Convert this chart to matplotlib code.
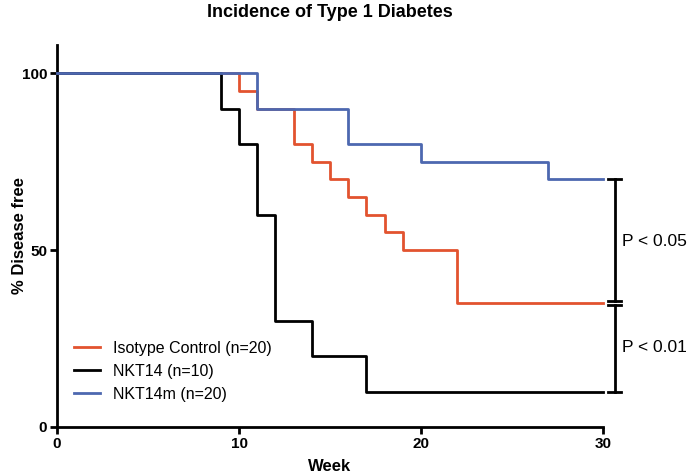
import numpy as np
import matplotlib.pyplot as plt

plt.rcParams['font.family'] = ['Liberation Sans', 'DejaVu Sans']

# survival curves (week, % disease free), step after each event
iso_weeks = [0, 10, 11, 13, 14, 15, 16, 17, 18, 19, 22, 30]
iso_free = [100, 95, 90, 80, 75, 70, 65, 60, 55, 50, 35, 35]

nkt14_weeks = [0, 9, 10, 11, 12, 14, 17, 30]
nkt14_free = [100, 90, 80, 60, 30, 20, 10, 10]

nkt14m_weeks = [0, 11, 16, 20, 27, 30]
nkt14m_free = [100, 90, 80, 75, 70, 70]

labels = ['Isotype Control (n=20)', 'NKT14 (n=10)', 'NKT14m (n=20)']
colors = ['#E2532F', '#000000', '#4D68B0']

# p-value brackets: (top, bottom, text)
brackets = [(70, 35, 'P < 0.05'), (35, 10, 'P < 0.01')]

fig = plt.figure(figsize=(6.95, 4.76), dpi=100)
ax = fig.add_axes([57 / 695, 49 / 476, 546 / 695, 382 / 476])

series = [(iso_weeks, iso_free), (nkt14_weeks, nkt14_free), (nkt14m_weeks, nkt14m_free)]
for (w, f), lab, c in zip(series, labels, colors):
    ax.step(w, f, where='post', color=c, lw=2.0, label=lab, clip_on=False, zorder=3)

ax.set_xlim(0, 30)
ax.set_ylim(0, 108)
ax.set_xticks([0, 10, 20, 30])
ax.set_yticks([0, 50, 100])
for s in ['top', 'right']:
    ax.spines[s].set_visible(False)
for s in ['left', 'bottom']:
    ax.spines[s].set_linewidth(2.0)
ax.tick_params(width=2.0, length=5, labelsize=11, pad=2)
for t in ax.get_xticklabels() + ax.get_yticklabels():
    t.set_fontweight('bold')

ax.set_xlabel('Week', fontsize=12, fontweight='bold', labelpad=6)
ax.set_ylabel('% Disease free', fontsize=12, fontweight='bold')
ax.yaxis.set_label_coords(-0.055, 0.5)
ax.set_title('Incidence of Type 1 Diabetes', fontsize=13, fontweight='bold', pad=20)

xb = 30.65
cap = 0.35
for i, (top, bot, txt) in enumerate(brackets):
    t_off = -0.6 if i == 1 else 0
    b_off = 0.6 if i == 0 else 0
    ax.plot([xb, xb], [top + t_off, bot + b_off], color='black', lw=2.0, clip_on=False)
    ax.plot([xb - cap, xb + cap], [top + t_off] * 2, color='black', lw=2.0, clip_on=False)
    ax.plot([xb - cap, xb + cap], [bot + b_off] * 2, color='black', lw=2.0, clip_on=False)
    ax.text(xb + 0.4, (top + bot) / 2, txt, fontsize=12.5, va='center', ha='left')

ax.legend(loc='lower left', bbox_to_anchor=(0.02, 0.05), frameon=False, fontsize=11.5,
          handlelength=1.6, handletextpad=0.8, labelspacing=0.5, borderaxespad=0)

fig.savefig('out.png', dpi=100)
